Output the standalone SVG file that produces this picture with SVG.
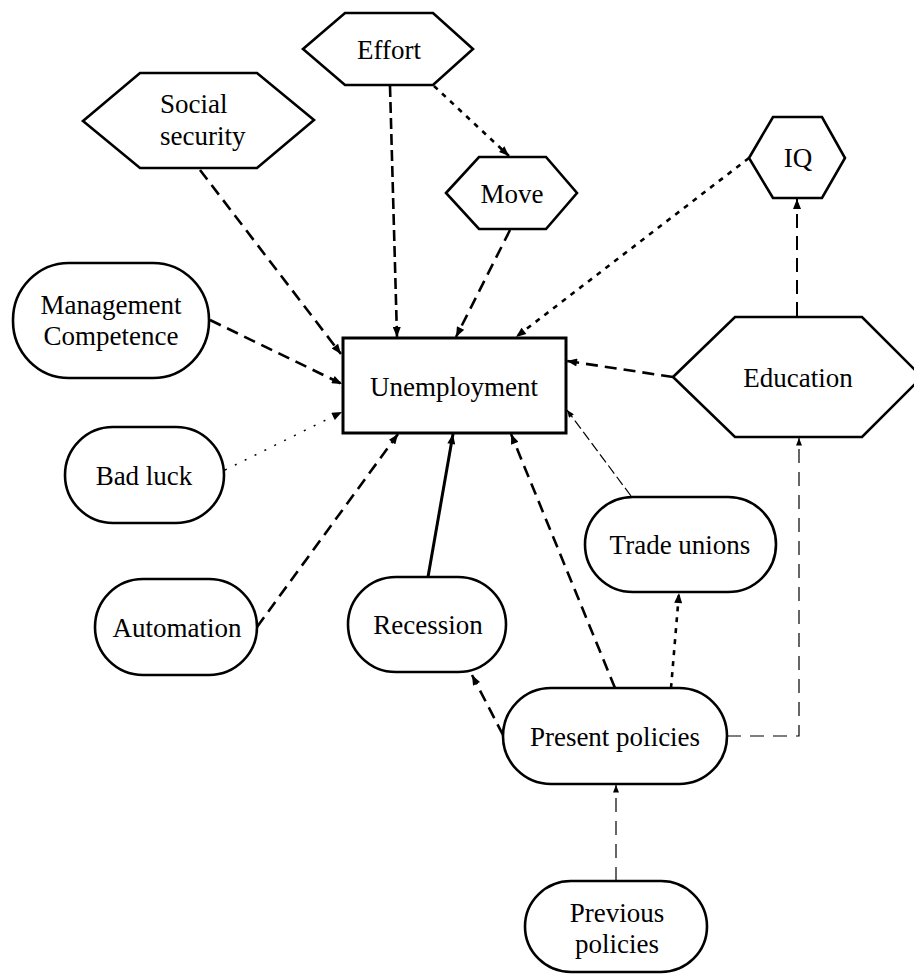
<svg xmlns="http://www.w3.org/2000/svg" width="914" height="974" viewBox="0 0 914 974">
<style>
.n{fill:#fff;stroke:#000;stroke-width:2.6;stroke-linejoin:miter}
.t{font-family:"Liberation Serif","Times New Roman",serif;font-size:27px;fill:#000;text-anchor:middle}
.s{text-anchor:start}
.c{fill:none;stroke:#000;stroke-linecap:butt}
.ld{stroke-width:2.6;stroke-dasharray:12 7}
.dt{stroke-width:2.6;stroke-dasharray:5 6}
.td{stroke-width:1.2;stroke-dasharray:14 9}
</style>
<defs>
<marker id="ah" viewBox="0 0 10 8" refX="10" refY="4" markerWidth="11" markerHeight="8" markerUnits="userSpaceOnUse" orient="auto">
<path d="M0,0 L10,4 L0,8 z" fill="#000"/>
</marker>
<marker id="ahs" viewBox="0 0 10 8" refX="10" refY="4" markerWidth="9" markerHeight="6" markerUnits="userSpaceOnUse" orient="auto">
<path d="M0,0 L10,4 L0,8 z" fill="#000"/>
</marker>
</defs>
<rect width="914" height="974" fill="#fff"/>
<g id="connectors">
<path class="c ld" d="M200,170 L341,354" marker-end="url(#ah)"/>
<path class="c" style="stroke-width:2.6;stroke-dasharray:11 5" d="M390,86 L397,337" marker-end="url(#ah)"/>
<path class="c dt" d="M434,86 L509,156" marker-end="url(#ah)"/>
<path class="c ld" d="M510,230 L456,337" marker-end="url(#ah)"/>
<path class="c dt" d="M749,158 L516,337" marker-end="url(#ah)"/>
<path class="c" style="stroke-width:2;stroke-dasharray:14 8" d="M797,316 L797,199" marker-end="url(#ah)"/>
<path class="c ld" d="M673,377 L567,361" marker-end="url(#ah)"/>
<path class="c ld" d="M210,320 L342,384" marker-end="url(#ah)"/>
<path class="c" style="stroke-width:1.5;stroke-dasharray:2 9" d="M225,470 L342,412" marker-end="url(#ah)"/>
<path class="c ld" d="M257,627 L398,434" marker-end="url(#ah)"/>
<path class="c" style="stroke-width:3" d="M428,577 L453,434" marker-end="url(#ah)"/>
<path class="c ld" d="M615,688 L511,434" marker-end="url(#ah)"/>
<path class="c" style="stroke-width:1.2;stroke-dasharray:10 4" d="M631,496 L567,410" marker-end="url(#ahs)"/>
<path class="c ld" d="M503,735 L472,675" marker-end="url(#ah)"/>
<path class="c dt" d="M671,688 L679,593" marker-end="url(#ah)"/>
<path class="c td" d="M727,736 L799,736 L799,438" marker-end="url(#ahs)"/>
<path class="c td" d="M616,881 L616,785" marker-end="url(#ahs)"/>
</g>
<g id="effort">
<polygon class="n" points="303,49 345,13 433,13 473,49 433,85 345,85"/>
<text class="t" x="389" y="59">Effort</text>
</g>
<g id="social-security">
<polygon class="n" points="83,121 140,73 257,73 314,120 257,168 140,168"/>
<text class="t s" x="160" y="113">Social</text>
<text class="t s" x="160" y="145">security</text>
</g>
<g id="move">
<polygon class="n" points="446,193 479,157 546,157 577,193 546,229 479,229"/>
<text class="t" x="512" y="203">Move</text>
</g>
<g id="iq">
<polygon class="n" points="749,158 773,117 822,117 845,158 822,198 773,198"/>
<text class="t" x="798" y="167">IQ</text>
</g>
<g id="education">
<polygon class="n" points="673,377 735,317 862,317 922,377 862,437 735,437"/>
<text class="t" x="798" y="387">Education</text>
</g>
<g id="unemployment">
<rect class="n" x="343" y="338" width="223" height="95" style="stroke-width:3"/>
<text class="t" x="454" y="396">Unemployment</text>
</g>
<g id="management-competence">
<rect class="n" x="13" y="263" width="196" height="115" rx="56" ry="57"/>
<text class="t" x="111" y="314">Management</text>
<text class="t" x="111" y="345">Competence</text>
</g>
<g id="bad-luck">
<rect class="n" x="65" y="427" width="159" height="96" rx="48" ry="48"/>
<text class="t" x="144" y="485">Bad luck</text>
</g>
<g id="automation">
<rect class="n" x="95" y="579" width="162" height="96" rx="48" ry="48"/>
<text class="t" x="177" y="637">Automation</text>
</g>
<g id="recession">
<rect class="n" x="348" y="577" width="158" height="95" rx="48" ry="48"/>
<text class="t" x="428" y="634">Recession</text>
</g>
<g id="trade-unions">
<rect class="n" x="585" y="497" width="191" height="95" rx="48" ry="48"/>
<text class="t" x="680" y="554">Trade unions</text>
</g>
<g id="present-policies">
<rect class="n" x="503" y="688" width="224" height="96" rx="48" ry="48"/>
<text class="t" x="615" y="746">Present policies</text>
</g>
<g id="previous-policies">
<rect class="n" x="525" y="881" width="182" height="91" rx="46" ry="46"/>
<text class="t" x="617" y="922">Previous</text>
<text class="t" x="617" y="953">policies</text>
</g>
</svg>
